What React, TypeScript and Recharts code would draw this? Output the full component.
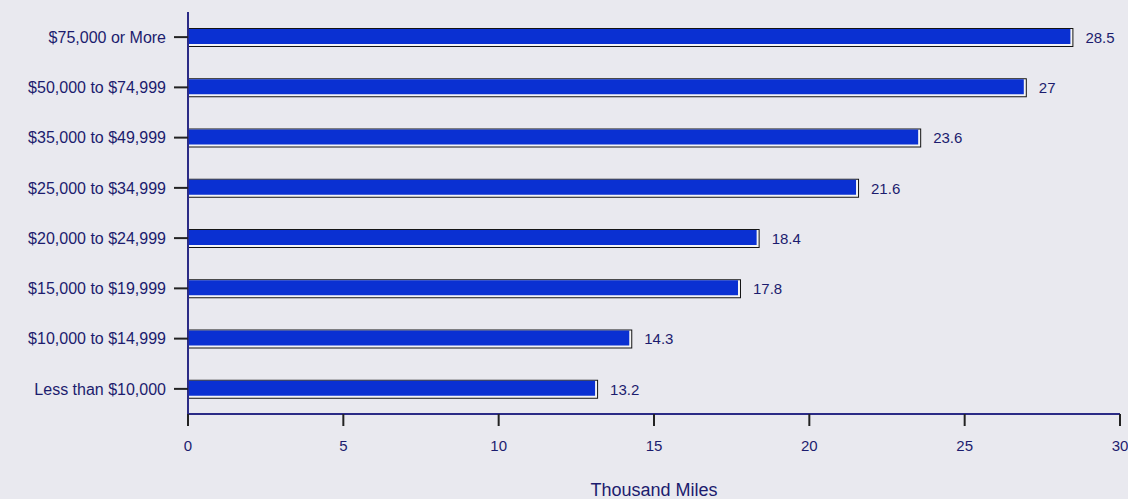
import { Bar, BarChart, LabelList, XAxis, YAxis } from "recharts";

const incomeGroups = [
  "$75,000 or More",
  "$50,000 to $74,999",
  "$35,000 to $49,999",
  "$25,000 to $34,999",
  "$20,000 to $24,999",
  "$15,000 to $19,999",
  "$10,000 to $14,999",
  "Less than $10,000",
];
const milesDriven = [28.5, 27, 23.6, 21.6, 18.4, 17.8, 14.3, 13.2];
const xTicks = [0, 5, 10, 15, 20, 25, 30];

const data = incomeGroups.map((group, i) => ({ group, miles: milesDriven[i] }));

const navy = "#1c1c6e";
const font = "'Liberation Sans', Arial, sans-serif";

// bevelled bar: dark outline, white inner edge on the right/bottom, blue body
function BevelBar(props: any) {
  const { x, y, width, height } = props;
  if (!width || width <= 0) return null;
  return (
    <g>
      <rect x={x} y={y} width={width} height={height} fill="#141414" />
      <rect x={x + 1} y={y + 1} width={width - 2} height={height - 2} fill="#f4f4f4" />
      <rect x={x + 1} y={y + 1} width={width - 4} height={height - 4} fill="#0a30d2" />
    </g>
  );
}

export default function App() {
  return (
    <div
      style={{
        position: "absolute",
        left: 0,
        top: 0,
        width: 1128,
        height: 499,
        background: "#e9e9ef",
        fontFamily: font,
      }}
    >
      <BarChart
        width={1128}
        height={499}
        data={data}
        layout="vertical"
        margin={{ top: 12, right: 8, left: 0, bottom: 0 }}
      >
        <XAxis
          type="number"
          dataKey="miles"
          domain={[0, 30]}
          ticks={xTicks}
          interval={0}
          height={85}
          tick={{ fill: navy, fontSize: 15, fontFamily: font, dy: 12 }}
          axisLine={{ stroke: "#2b2b86", strokeWidth: 2 }}
          tickLine={{ stroke: "#222", strokeWidth: 2 }}
          tickSize={12}
          label={{
            value: "Thousand Miles",
            position: "insideBottom",
            offset: 3,
            fill: navy,
            fontSize: 18,
            fontFamily: font,
          }}
        />
        <YAxis
          type="category"
          dataKey="group"
          width={188}
          tick={{ fill: navy, fontSize: 16, fontFamily: font }}
          axisLine={{ stroke: "#2b2b86", strokeWidth: 2 }}
          tickLine={{ stroke: "#222", strokeWidth: 2 }}
          tickSize={14}
          tickMargin={8}
          interval={0}
        />
        <Bar dataKey="miles" barSize={19} shape={<BevelBar />} isAnimationActive={false}>
          <LabelList
            dataKey="miles"
            position="right"
            offset={12}
            fill={navy}
            fontSize={15}
            fontFamily={font}
          />
        </Bar>
      </BarChart>
    </div>
  );
}
